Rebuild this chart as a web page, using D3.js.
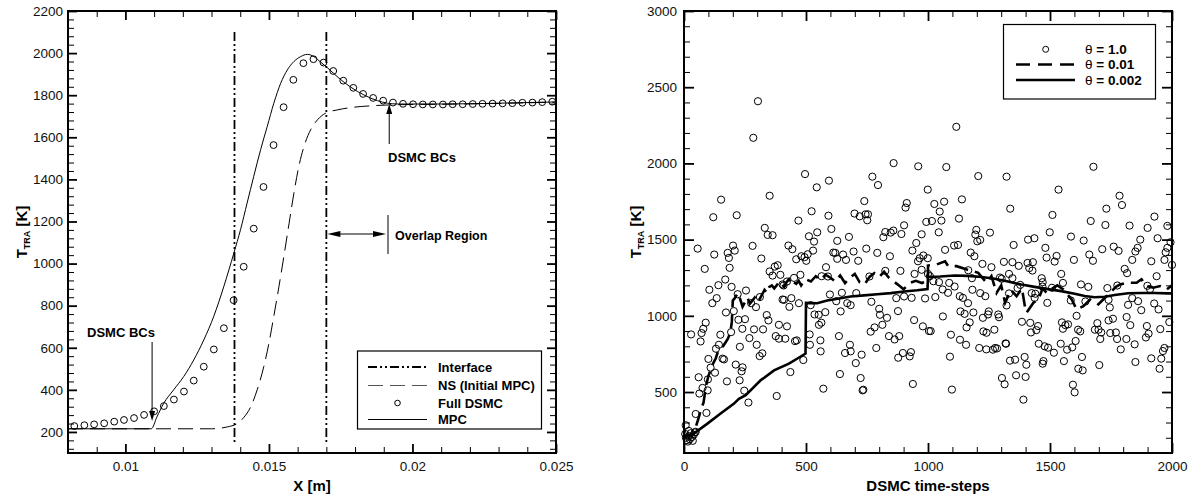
<!DOCTYPE html>
<html>
<head>
<meta charset="utf-8">
<script src="https://cdn.jsdelivr.net/npm/d3@7"></script>
<style>
  body { margin: 0; background: #fff; }
  svg { display: block; font-family: "Liberation Sans", Arial, sans-serif; }
</style>
</head>
<body>
<svg id="chart" width="1193" height="500"></svg>
<script>
// ---------- Left panel: temperature profile across the shock ----------
const leftXTicks = [0.01, 0.015, 0.02, 0.025];
const leftXLabels = ["0.01", "0.015", "0.02", "0.025"];
const leftYTicks = [200, 400, 600, 800, 1000, 1200, 1400, 1600, 1800, 2000, 2200];

// Hybrid interface locations [m]
const interfaceX = [0.0138, 0.0170];
const interfaceSpan = [140, 2100];

// Navier-Stokes solution used as the initial MPC state
const nsProfile = [
  [0.008, 215], [0.0130, 215], [0.01355, 224], [0.0139, 240], [0.01413, 270], [0.01436, 318],
  [0.01459, 400], [0.01482, 510], [0.0150, 622], [0.01517, 750], [0.01535, 892], [0.01552, 1034],
  [0.0157, 1190], [0.01587, 1335], [0.01604, 1461], [0.01622, 1556], [0.01645, 1635],
  [0.01669, 1683], [0.01698, 1715], [0.01738, 1730], [0.0179, 1742], [0.0185, 1749],
  [0.0195, 1755], [0.021, 1757], [0.023, 1761], [0.025, 1767]
];

// Full DSMC reference solution
const fullDsmc = [
  [0.00822, 228], [0.00857, 232], [0.00891, 236], [0.00926, 241], [0.00961, 249], [0.00995, 257],
  [0.0103, 266], [0.01065, 281], [0.011, 298], [0.01134, 323], [0.01169, 354], [0.01204, 392],
  [0.01238, 444], [0.01273, 510], [0.01308, 592], [0.01343, 693], [0.01377, 826], [0.01412, 985],
  [0.01447, 1166], [0.01481, 1364], [0.01516, 1563], [0.01551, 1743], [0.01585, 1873],
  [0.0162, 1952], [0.01655, 1971], [0.0169, 1955], [0.01724, 1915], [0.01759, 1869],
  [0.01794, 1835], [0.01828, 1806], [0.01863, 1787], [0.01898, 1774], [0.01932, 1765],
  [0.01967, 1759], [0.02002, 1757], [0.02036, 1756], [0.02071, 1756], [0.02106, 1756],
  [0.0214, 1757], [0.02175, 1757], [0.0221, 1758], [0.02244, 1759], [0.02279, 1760],
  [0.02314, 1761], [0.02348, 1762], [0.02383, 1764], [0.02418, 1765], [0.02452, 1767],
  [0.02487, 1769]
];

// Converged MPC solution
const mpcProfile = [
  [0.008, 215], [0.0109, 215], [0.0111, 272], [0.01133, 335], [0.01168, 400], [0.01203, 463],
  [0.01238, 542], [0.01273, 637], [0.01308, 750], [0.01343, 892], [0.01378, 1051],
  [0.01401, 1161], [0.01424, 1288], [0.01447, 1414], [0.01471, 1541], [0.01494, 1651],
  [0.01517, 1762], [0.01541, 1857], [0.01564, 1920], [0.01587, 1960], [0.0161, 1983],
  [0.01634, 1994], [0.01657, 1983], [0.0168, 1957], [0.01704, 1930], [0.01744, 1881],
  [0.01785, 1838], [0.01831, 1801], [0.01878, 1774], [0.01913, 1762], [0.0195, 1758],
  [0.021, 1758], [0.023, 1762], [0.025, 1768]
];

// ---------- Right panel: temperature history in one DSMC cell ----------
const rightXTicks = [0, 500, 1000, 1500, 2000];
const rightYTicks = [500, 1000, 1500, 2000, 2500, 3000];

// theta = 1.0 : instantaneous cell samples [time-step, T]
const theta1 = [
  [5,225],[8,200],[12,185],[16,175],[20,210],[24,190],[28,230],[32,205],[36,180],[40,220],[44,235],[7,282],[48,239],[20,245],
  [303,2408],[284,2168],[859,2002],[960,1981],[496,1930],[594,1887],[772,1913],[795,1858],[544,1843],[999,1828],
  [351,1788],[152,1762],[739,1753],[913,1740],[908,1710],[523,1686],[699,1671],[720,1653],[744,1666],[754,1666],
  [751,1627],[120,1647],[216,1660],[592,1657],[469,1625],[993,1616],[902,1594],[331,1577],[604,1570],[343,1531],
  [363,1529],[512,1522],[546,1548],[533,1487],[628,1492],[676,1518],[825,1550],[817,1516],[847,1546],[858,1559],
  [891,1537],[974,1535],[952,1478],[936,1428],[56,1441],[124,1402],[201,1461],[208,1428],[179,1413],[184,1380],
  [281,1459],[317,1376],[428,1461],[444,1437],[460,1371],[481,1391],[494,1385],[501,1361],[507,1404],[529,1428],
  [612,1415],[620,1413],[628,1374],[652,1402],[664,1367],[695,1422],[714,1361],[747,1441],[792,1413],[844,1391],
  [959,1358],[966,1378],[981,1396],[999,1378],[85,1308],[187,1315],[351,1291],[363,1264],[372,1323],[384,1332],
  [395,1269],[451,1249],[477,1269],[582,1319],[564,1260],[590,1258],[760,1258],[825,1295],[887,1295],[945,1275],
  [974,1302],[169,1238],[141,1201],[195,1190],[104,1171],[134,1116],[116,1083],[254,1166],[220,1142],[172,1022],
  [204,1031],[275,1083],[295,1057],[311,1123],[404,1107],[410,1105],[408,1199],[432,1059],[440,1116],[471,1083],
  [404,1206],[422,1225],[598,1140],[624,1096],[647,1151],[642,1029],[669,1083],[683,1070],[706,1149],[768,1092],
  [800,1046],[803,1007],[832,987],[870,1116],[877,1031],[902,1127],[933,1118],[988,1114],[519,1070],[535,1009],
  [552,1007],[579,1024],[346,970],[339,1005],[223,974],[250,978],[239,915],[287,911],[324,911],[389,941],
  [422,931],[376,867],[389,850],[415,850],[455,834],[462,839],[553,941],[563,955],[515,878],[559,839],[635,867],
  [680,810],[683,767],[660,756],[704,690],[728,745],[765,896],[781,924],[788,789],[813,941],[840,867],[863,845],
  [882,867],[878,725],[897,756],[925,734],[930,762],[943,972],[979,931],[1004,900],[29,878],[68,832],[72,887],
  [79,915],[89,955],[149,876],[143,810],[131,784],[158,719],[164,714],[193,893],[229,797],[268,854],[298,810],
  [310,736],[321,754],[100,717],[109,660],[127,627],[212,680],[240,662],[236,636],[228,577],[176,570],[98,583],
  [60,597],[63,490],[76,527],[97,511],[92,363],[48,356],[247,509],[264,431],[380,474],[436,631],[489,710],
  [516,810],[560,767],[571,522],[639,618],[732,511],[735,515],[724,592],[938,553],
  [1116,2240],[1075,1976],[1206,1917],[1322,1913],[1678,1978],[1535,1828],[1139,1764],[1066,1749],[1026,1734],
  [1048,1684],[1785,1788],[1795,1727],[1337,1703],[1127,1638],[1055,1625],[1016,1622],[1510,1662],[1731,1703],
  [1667,1622],[1727,1596],[1826,1592],[1928,1651],[1900,1577],[1981,1590],[1044,1548],[1198,1564],[1194,1533],
  [1202,1489],[1214,1498],[1254,1546],[1410,1500],[1436,1509],[1499,1548],[1586,1520],[1638,1494],[1761,1454],
  [1781,1426],[1850,1422],[1870,1500],[1941,1509],[1994,1483],[1981,1446],[1974,1417],[1107,1461],[1123,1465],
  [1070,1433],[1175,1415],[1190,1391],[1351,1465],[1481,1446],[1486,1382],[1527,1393],[1519,1356],[1598,1367],
  [1661,1402],[1676,1361],[1714,1437],[1859,1446],[1837,1367],[1915,1358],[1969,1367],[2000,1334],[1311,1354],
  [1346,1352],[1372,1328],[1408,1347],[1415,1313],[1430,1352],[1428,1297],[1223,1341],[1260,1319],[1000,1275],
  [1022,1227],[1045,1221],[1087,1216],[1109,1192],[1008,1260],[1060,1173],[1082,1151],[1030,1123],[1165,1299],
  [1180,1247],[1182,1171],[1214,1149],[1235,1129],[1295,1251],[1302,1243],[1346,1247],[1332,1275],[1332,1147],
  [1367,1182],[1378,1203],[1466,1247],[1470,1221],[1553,1216],[1546,1275],[1469,1192],[1508,1184],[1440,1145],
  [1425,1149],[1627,1206],[1657,1190],[1735,1182],[1776,1199],[1806,1308],[1816,1280],[1937,1260],[1899,1197],
  [1910,1175],[1837,1116],[1861,1096],[1820,1072],[1927,1081],[1945,1042],[1874,1037],[1745,1055],[1740,1105],
  [1437,1118],[1489,1085],[1585,1101],[1645,1094],[1130,1129],[1143,1118],[1164,1083],[1133,1029],[1150,1013],
  [1186,1022],[1249,1029],[1061,996],[1171,957],[1158,924],[1225,987],[1246,1009],[1288,1009],[1291,991],
  [1322,1068],[1011,900],[1094,876],[1131,843],[1156,810],[1227,898],[1240,889],[1272,909],[1210,789],[1239,780],
  [1266,778],[1275,789],[1283,786],[1318,819],[1385,961],[1419,954],[1422,891],[1444,906],[1451,933],[1454,817],
  [1478,800],[1492,791],[1516,758],[1544,817],[1549,957],[1553,915],[1563,939],[1574,944],[1557,703],[1570,778],
  [1591,793],[1609,1000],[1615,909],[1624,898],[1605,835],[1631,730],[1616,653],[1634,642],[1684,909],[1699,909],
  [1710,891],[1694,952],[1706,848],[1747,887],[1740,970],[1758,981],[1770,891],[1775,848],[1790,780],[1813,848],
  [1814,992],[1829,939],[1847,813],[1850,697],[1893,858],[1897,933],[1904,883],[1915,721],[1949,653],[1956,719],
  [1963,769],[1969,789],[1989,959],[1952,913],[1702,677],[1594,548],[1601,498],[1391,450],[1400,599],[1361,610],
  [1396,730],[1403,679],[1357,712],[1336,706],[1303,592],[1314,551],[1320,817],[1473,703],[1470,686],[1090,732],
  [1098,516]
];

// theta = 0.01 : time-averaged temperature
const theta001 = [
  [50,280],[60,330],[70,390],[80,430],[90,540],[100,605],[110,650],[120,690],[130,720],[140,770],[150,790],
  [160,800],[170,825],[180,850],[190,890],[196,960],[200,1100],[210,1120],[220,1150],[230,1110],[240,1060],
  [250,1090],[260,1120],[270,1080],[280,1100],[290,1120],[300,1090],[310,1110],[320,1140],[330,1170],[340,1150],
  [350,1190],[360,1200],[370,1180],[380,1200],[390,1225],[400,1210],[410,1190],[420,1220],[430,1240],[440,1205],
  [450,1220],[460,1210],[470,1230],[480,1200],[490,1225],[500,1240],[520,1225],[540,1260],[560,1235],[580,1270],
  [600,1250],[620,1225],[640,1265],[660,1215],[680,1250],[700,1275],[720,1220],[740,1205],[760,1255],[780,1280],
  [800,1255],[820,1290],[840,1250],[860,1225],[880,1200],[900,1175],[925,1215],[950,1230],[975,1215],[1000,1235],
  [1000,1330],[1036,1337],[1070,1358],[1083,1326],[1117,1326],[1159,1304],[1206,1282],[1240,1217],[1260,1260],
  [1281,1151],[1300,1200],[1316,1086],[1340,1170],[1363,1129],[1385,1180],[1398,1053],[1404,1020],[1432,1086],
  [1452,1107],[1470,1180],[1486,1151],[1514,1184],[1530,1200],[1555,1173],[1589,1107],[1609,1042],[1637,1064],
  [1664,1107],[1698,1075],[1718,1107],[1746,1151],[1770,1190],[1787,1206],[1814,1217],[1855,1217],[1875,1240],
  [1896,1195],[1923,1184],[1951,1195],[1978,1173],[2000,1200]
];

// theta = 0.002 : time-averaged temperature
const theta0002 = [
  [0,205],[20,215],[40,228],[96,293],[150,359],[205,424],[225,455],[253,479],[314,577],[369,642],[430,686],
  [470,725],[498,752],[500,1085],[546,1083],[587,1100],[642,1115],[683,1127],[738,1134],[792,1142],[847,1149],
  [902,1160],[956,1168],[998,1176],[1000,1255],[1050,1258],[1110,1265],[1164,1262],[1220,1255],[1273,1243],
  [1328,1225],[1383,1205],[1437,1190],[1492,1175],[1546,1162],[1601,1145],[1642,1130],[1683,1122],[1724,1125],
  [1765,1137],[1820,1148],[1874,1150],[1929,1150],[1984,1147],[2000,1147]
];

// ---------- drawing ----------
const svg = d3.select("#chart");
const INK = "#000";

const xL = d3.scaleLinear().domain([0.008, 0.025]).range([68, 556]);
const yL = d3.scaleLinear().domain([100, 2200]).range([453, 11]);
const xR = d3.scaleLinear().domain([0, 2000]).range([684, 1172]);
const yR = d3.scaleLinear().domain([100, 3000]).range([453, 11]);

function styleAxis(sel, width) {
  sel.select(".domain").remove();
  sel.selectAll(".tick line").attr("stroke", INK).attr("stroke-width", width);
  sel.attr("font-family", null).attr("font-size", 13.5);
  sel.selectAll(".tick text").attr("fill", "#111");
}

// framed plot with inward ticks on all four sides
function frame(x, y, o) {
  const g = svg.append("g");
  const [xa, xb] = x.range();
  const [yb, ya] = y.range();
  const none = () => "";
  const add = (axis, tx, ty, w) =>
    g.append("g").attr("transform", `translate(${tx},${ty})`).call(axis).call(s => styleAxis(s, w));

  add(d3.axisBottom(x).tickValues(o.xMinor).tickSize(-o.minor).tickFormat(none), 0, yb, 1);
  add(d3.axisTop(x).tickValues(o.xMinor).tickSize(-o.minor).tickFormat(none), 0, ya, 1);
  add(d3.axisLeft(y).tickValues(o.yMinor).tickSize(-o.minor).tickFormat(none), xa, 0, 1);
  add(d3.axisRight(y).tickValues(o.yMinor).tickSize(-o.minor).tickFormat(none), xb, 0, 1);

  add(d3.axisBottom(x).tickValues(o.xMajor).tickSize(-o.major).tickPadding(8).tickFormat(o.xFmt), 0, yb, 1.8);
  add(d3.axisTop(x).tickValues(o.xMajor).tickSize(-o.major).tickFormat(none), 0, ya, 1.8);
  add(d3.axisLeft(y).tickValues(o.yMajor).tickSize(-o.major).tickPadding(o.yPad).tickFormat(o.yFmt), xa, 0, 1.8);
  add(d3.axisRight(y).tickValues(o.yMajor).tickSize(-o.major).tickFormat(none), xb, 0, 1.8);

  g.append("rect").attr("x", xa).attr("y", ya).attr("width", xb - xa).attr("height", yb - ya)
    .attr("fill", "none").attr("stroke", INK).attr("stroke-width", 2);
  return g;
}

function yTitle(cx, cy) {
  const t = svg.append("text").attr("transform", `translate(${cx},${cy}) rotate(-90)`)
    .attr("text-anchor", "middle").attr("font-weight", "bold").attr("font-size", 15).attr("fill", INK);
  t.append("tspan").text("T");
  t.append("tspan").attr("font-size", 9).attr("dy", 3).text("TRA");
  t.append("tspan").attr("dy", -3).text(" [K]");
}

function xTitle(cx, cy, label) {
  svg.append("text").attr("x", cx).attr("y", cy).attr("text-anchor", "middle")
    .attr("font-weight", "bold").attr("font-size", 15).attr("fill", INK).text(label);
}

function arrowHead(g, x, y, dir, len, half) {
  const pts = {
    down: [[x, y], [x - half, y - len], [x + half, y - len]],
    up: [[x, y], [x - half, y + len], [x + half, y + len]],
    left: [[x, y], [x + len, y - half], [x + len, y + half]],
    right: [[x, y], [x - len, y - half], [x - len, y + half]]
  }[dir];
  g.append("path").attr("d", "M" + pts.join("L") + "Z").attr("fill", INK);
}

// ----- left panel -----
const minorL = d3.range(8, 26).filter(d => d % 5 !== 0).map(d => d / 1000);
frame(xL, yL, {
  xMajor: leftXTicks, xMinor: minorL, yMajor: leftYTicks,
  yMinor: d3.range(120, 2200, 40).filter(d => d % 200 !== 0),
  xFmt: (d, i) => leftXLabels[i], yFmt: d3.format("d"), major: 9, minor: 6, yPad: 5
});

const gL = svg.append("g");
const lineL = d3.line().x(d => xL(d[0])).y(d => yL(d[1])).curve(d3.curveMonotoneX);

// interface lines
gL.selectAll("line.iface").data(interfaceX).join("line").attr("class", "iface")
  .attr("x1", d => xL(d)).attr("x2", d => xL(d))
  .attr("y1", yL(interfaceSpan[1])).attr("y2", yL(interfaceSpan[0]))
  .attr("stroke", INK).attr("stroke-width", 1.8).attr("stroke-dasharray", "9,3,2,3,2,3");

gL.append("path").datum(nsProfile).attr("d", lineL).attr("fill", "none")
  .attr("stroke", INK).attr("stroke-width", 1).attr("stroke-dasharray", "15,7");
gL.append("path").datum(mpcProfile).attr("d", lineL).attr("fill", "none")
  .attr("stroke", INK).attr("stroke-width", 1);
gL.selectAll("circle.dsmc").data(fullDsmc).join("circle").attr("class", "dsmc")
  .attr("cx", d => xL(d[0])).attr("cy", d => yL(d[1])).attr("r", 3.4)
  .attr("fill", "none").attr("stroke", INK).attr("stroke-width", 1);

// annotations
const annoFont = g => g.attr("font-weight", "bold").attr("fill", INK);
// left "DSMC BCs"
gL.append("text").attr("x", 121).attr("y", 337).attr("text-anchor", "middle").attr("font-size", 13)
  .call(annoFont).text("DSMC BCs");
gL.append("line").attr("x1", xL(0.01093)).attr("x2", xL(0.01093)).attr("y1", 342).attr("y2", 412)
  .attr("stroke", INK).attr("stroke-width", 1);
arrowHead(gL, xL(0.01093), 421, "down", 10, 3);
// right "DSMC BCs"
gL.append("text").attr("x", 388).attr("y", 162).attr("font-size", 13).call(annoFont).text("DSMC BCs");
gL.append("line").attr("x1", xL(0.01919)).attr("x2", xL(0.01919)).attr("y1", 144).attr("y2", 112)
  .attr("stroke", INK).attr("stroke-width", 1);
arrowHead(gL, xL(0.01919), 104, "up", 10, 3);
// overlap region
gL.append("line").attr("x1", xL(interfaceX[1]) + 10).attr("x2", 376).attr("y1", 234).attr("y2", 234)
  .attr("stroke", INK).attr("stroke-width", 1);
arrowHead(gL, xL(interfaceX[1]) + 1, 234, "left", 13, 3);
arrowHead(gL, 386, 234, "right", 13, 3);
gL.append("line").attr("x1", 388).attr("x2", 388).attr("y1", 215).attr("y2", 254)
  .attr("stroke", INK).attr("stroke-width", 1);
gL.append("text").attr("x", 395).attr("y", 240).attr("font-size", 12.5).call(annoFont).text("Overlap Region");

// legend
const legL = svg.append("g");
legL.append("rect").attr("x", 357.5).attr("y", 351).attr("width", 184).attr("height", 78)
  .attr("fill", "#fff").attr("stroke", INK).attr("stroke-width", 1.2);
const legLItems = [
  { label: "Interface", y: 367, kind: "line", dash: "9,3,2,3,2,3", w: 1.8 },
  { label: "NS (Initial MPC)", y: 385.5, kind: "line", dash: "15,7", w: 1, color: "#555" },
  { label: "Full DSMC", y: 403, kind: "circle" },
  { label: "MPC", y: 419.5, kind: "line", dash: null, w: 1 }
];
legLItems.forEach(it => {
  if (it.kind === "line") {
    legL.append("line").attr("x1", 368).attr("x2", 427).attr("y1", it.y).attr("y2", it.y)
      .attr("stroke", it.color || INK).attr("stroke-width", it.w).attr("stroke-dasharray", it.dash);
  } else {
    legL.append("circle").attr("cx", 397.5).attr("cy", it.y).attr("r", 2.8)
      .attr("fill", "none").attr("stroke", INK).attr("stroke-width", 1);
  }
  legL.append("text").attr("x", 438).attr("y", it.y).attr("dy", "0.36em").attr("font-size", 13)
    .call(annoFont).text(it.label);
});

yTitle(27, 232);
xTitle(312, 491, "X [m]");

// ----- right panel -----
frame(xR, yR, {
  xMajor: rightXTicks, xMinor: d3.range(100, 2000, 100).filter(d => d % 500 !== 0),
  yMajor: rightYTicks, yMinor: d3.range(200, 3000, 100).filter(d => d % 500 !== 0),
  xFmt: d3.format("d"), yFmt: d3.format("d"), major: 10, minor: 6, yPad: 7
});

const gR = svg.append("g");
const lineR = d3.line().x(d => xR(d[0])).y(d => yR(d[1]));
gR.selectAll("circle.t1").data(theta1).join("circle").attr("class", "t1")
  .attr("cx", d => xR(d[0])).attr("cy", d => yR(d[1])).attr("r", 3.6)
  .attr("fill", "none").attr("stroke", INK).attr("stroke-width", 1);
gR.append("path").datum(theta001).attr("d", lineR).attr("fill", "none")
  .attr("stroke", INK).attr("stroke-width", 2.6).attr("stroke-dasharray", "14,7");
gR.append("path").datum(theta0002).attr("d", lineR).attr("fill", "none")
  .attr("stroke", INK).attr("stroke-width", 2.6);

const legR = svg.append("g");
legR.append("rect").attr("x", 1003.5).attr("y", 24.5).attr("width", 152).attr("height", 74.5)
  .attr("fill", "#fff").attr("stroke", INK).attr("stroke-width", 1.2);
const legRItems = [
  { val: "1.0", y: 49.3, kind: "circle" },
  { val: "0.01", y: 64.5, kind: "line", dash: "14,8" },
  { val: "0.002", y: 80, kind: "line", dash: null }
];
legRItems.forEach(it => {
  if (it.kind === "line") {
    legR.append("line").attr("x1", 1016).attr("x2", 1075).attr("y1", it.y).attr("y2", it.y)
      .attr("stroke", INK).attr("stroke-width", 2.6).attr("stroke-dasharray", it.dash);
  } else {
    legR.append("circle").attr("cx", 1045.7).attr("cy", it.y).attr("r", 3)
      .attr("fill", "none").attr("stroke", INK).attr("stroke-width", 1);
  }
  const t = legR.append("text").attr("x", 1085).attr("y", it.y).attr("dy", "0.36em")
    .attr("font-size", 13.5).attr("fill", INK);
  t.append("tspan").attr("font-weight", "normal").text("θ");
  t.append("tspan").attr("font-weight", "bold").text(" = " + it.val);
});

yTitle(641, 232);
xTitle(928, 491, "DSMC time-steps");
</script>
</body>
</html>
